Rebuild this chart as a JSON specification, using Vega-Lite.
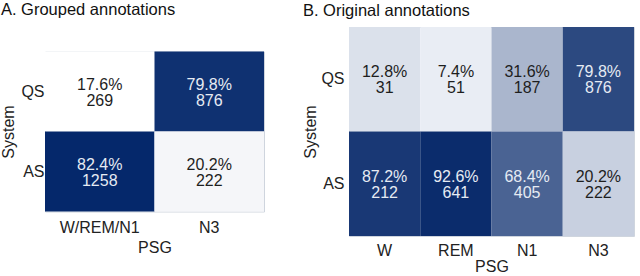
{
  "$schema": "https://vega.github.io/schema/vega-lite/v6.json",
  "padding": {"left": 0, "top": 1, "right": 6, "bottom": 3},
  "background": "white",
  "bounds": "flush",
  "center": true,
  "spacing": 85,
  "config": {
    "font": "Liberation Sans",
    "view": {"stroke": "#cfd5de", "strokeWidth": 1},
    "axis": {"domain": false, "ticks": false, "grid": false, "labelFontSize": 16, "titleFontSize": 16, "titleFontWeight": "normal", "labelColor": "#222222", "titleColor": "#222222", "labelFont": "Liberation Sans", "titleFont": "Liberation Sans"},
    "title": {"fontSize": 16.5, "fontWeight": "normal", "anchor": "start", "color": "#111111", "font": "Liberation Sans"}
  },
  "datasets": {
    "grouped": [
      {"psg": "W/REM/N1", "system": "QS", "pct": 0.176, "n": 269},
      {"psg": "N3", "system": "QS", "pct": 0.798, "n": 876},
      {"psg": "W/REM/N1", "system": "AS", "pct": 0.824, "n": 1258},
      {"psg": "N3", "system": "AS", "pct": 0.202, "n": 222}
    ],
    "original": [
      {"psg": "W", "system": "QS", "pct": 0.128, "n": 31},
      {"psg": "REM", "system": "QS", "pct": 0.074, "n": 51},
      {"psg": "N1", "system": "QS", "pct": 0.316, "n": 187},
      {"psg": "N3", "system": "QS", "pct": 0.798, "n": 876},
      {"psg": "W", "system": "AS", "pct": 0.872, "n": 212},
      {"psg": "REM", "system": "AS", "pct": 0.926, "n": 641},
      {"psg": "N1", "system": "AS", "pct": 0.684, "n": 405},
      {"psg": "N3", "system": "AS", "pct": 0.202, "n": 222}
    ]
  },
  "resolve": {"scale": {"color": "independent"}},
  "hconcat": [
    {
      "title": {"text": "A. Grouped annotations", "offset": 33},
      "width": 219,
      "height": 160,
      "data": {"name": "grouped"},
      "encoding": {
        "x": {"field": "psg", "type": "nominal", "sort": ["W/REM/N1", "N3"], "scale": {"paddingInner": 0, "paddingOuter": 0}, "axis": {"labelAngle": 0, "labelPadding": 8, "title": "PSG", "titlePadding": 4}},
        "y": {"field": "system", "type": "nominal", "sort": ["QS", "AS"], "scale": {"paddingInner": 0, "paddingOuter": 0}, "axis": {"labelPadding": 1, "title": "System", "titlePadding": 4}}
      },
      "layer": [
        {"mark": {"type": "rect"}, "encoding": {"color": {"field": "pct", "type": "quantitative", "scale": {"domain": [0.176, 0.824], "range": ["#ffffff", "#05286b"], "nice": false, "zero": false, "interpolate": "rgb"}, "legend": null}}},
        {"mark": {"type": "text", "fontSize": 16, "dy": -7, "font": "Liberation Sans"}, "encoding": {"text": {"field": "pct", "type": "quantitative", "format": ".1%"}, "color": {"condition": {"test": "datum.pct > 0.5", "value": "#e6ebf3"}, "value": "#1e1e1e"}}},
        {"mark": {"type": "text", "fontSize": 16, "dy": 9, "font": "Liberation Sans"}, "encoding": {"text": {"field": "n", "type": "quantitative", "format": "d"}, "color": {"condition": {"test": "datum.pct > 0.5", "value": "#e6ebf3"}, "value": "#1e1e1e"}}}
      ]
    },
    {
      "title": {"text": "B. Original annotations", "offset": 8},
      "width": 285,
      "height": 209,
      "data": {"name": "original"},
      "encoding": {
        "x": {"field": "psg", "type": "nominal", "sort": ["W", "REM", "N1", "N3"], "scale": {"paddingInner": 0, "paddingOuter": 0}, "axis": {"labelAngle": 0, "labelPadding": 6, "title": "PSG", "titlePadding": 0}},
        "y": {"field": "system", "type": "nominal", "sort": ["QS", "AS"], "scale": {"paddingInner": 0, "paddingOuter": 0}, "axis": {"labelPadding": 5, "title": "System", "titlePadding": 2}}
      },
      "layer": [
        {"mark": {"type": "rect"}, "encoding": {"color": {"field": "pct", "type": "quantitative", "scale": {"domain": [0.074, 0.926], "range": ["#e9edf4", "#0b2c6c"], "nice": false, "zero": false, "interpolate": "rgb"}, "legend": null}}},
        {"mark": {"type": "text", "fontSize": 16, "dy": -7, "font": "Liberation Sans"}, "encoding": {"text": {"field": "pct", "type": "quantitative", "format": ".1%"}, "color": {"condition": {"test": "datum.pct > 0.5", "value": "#e6ebf3"}, "value": "#1e1e1e"}}},
        {"mark": {"type": "text", "fontSize": 16, "dy": 9, "font": "Liberation Sans"}, "encoding": {"text": {"field": "n", "type": "quantitative", "format": "d"}, "color": {"condition": {"test": "datum.pct > 0.5", "value": "#e6ebf3"}, "value": "#1e1e1e"}}}
      ]
    }
  ]
}
